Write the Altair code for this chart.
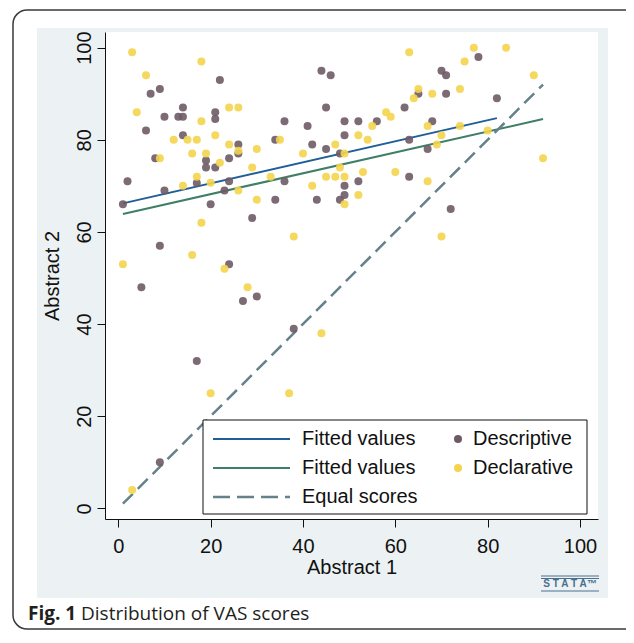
import altair as alt
import pandas as pd

# ---------------- data ----------------
desc_x = [22, 7, 9, 14, 10, 13, 14, 21, 21, 6, 14, 26, 26, 8, 19, 24, 19, 21,
          36, 41, 45, 44, 46, 49, 49, 34, 42, 45, 48, 52, 56, 62, 65, 71, 70, 71,
          78, 82, 68, 63, 67, 63, 72, 49, 52, 49, 48, 43, 34, 36, 29, 20, 2, 1,
          10, 17, 24, 23, 9, 24, 5, 27, 30, 38, 17, 9]
desc_y = [93, 90, 91, 87, 85, 85, 85, 86, 84.5, 82, 81, 79, 77, 76, 75.5, 76, 74, 74,
          84, 83, 87, 95, 94, 84, 81, 80, 79, 78, 77, 84, 84, 87, 90, 90, 95, 94,
          98, 89, 84, 80, 78, 72, 65, 70, 71, 68, 67, 67, 67, 71, 63, 66, 71, 66,
          69, 70.6, 71, 69, 57, 53, 48, 45, 46, 39, 32, 10]

decl_x = [3, 18, 6, 4, 24, 26, 18, 21, 12, 15, 17, 24, 26, 9, 16, 19, 22, 30, 35,
          40, 47, 49, 29, 48, 33, 42, 45, 47, 49, 49, 30, 18, 14, 17, 20, 26, 38,
          16, 1, 23, 28, 44, 20, 37, 3, 70, 63, 77, 84, 75, 90, 65, 64, 68, 74,
          58, 59, 55, 52, 54, 67, 74, 70, 69, 80, 92, 53, 60, 67, 52]
decl_y = [99, 97, 94, 86, 87, 87, 84, 81, 80, 80, 80, 79, 77.6, 76, 77, 77, 75, 78, 80,
          77, 79, 77, 74, 74, 72, 70, 72, 72, 72, 66, 67, 62, 70, 72, 70.7, 69, 59,
          55, 53, 52, 48, 38, 25, 25, 4, 59, 99, 100, 100, 97, 94, 91, 89, 90, 91,
          86, 85, 83, 81, 80, 83, 83, 81, 79, 82, 76, 73, 73, 71, 68]

fit_desc_x = [1, 82]
fit_desc_y = [66.2, 84.7]
fit_decl_x = [1, 92]
fit_decl_y = [63.9, 84.5]
equal_x = [1, 92]
equal_y = [1, 92]

x_ticks = [0, 20, 40, 60, 80, 100]
y_ticks = [0, 20, 40, 60, 80, 100]
groups = ["Descriptive", "Declarative"]
legend_labels = ["Fitted values", "Fitted values", "Equal scores", "Descriptive", "Declarative"]
x_title = "Abstract 1"
y_title = "Abstract 2"
caption_bold = "Fig. 1"
caption_text = "Distribution of VAS scores"
logo_text = "S T A T A\u2122"

# ---------------- styling ----------------
W, H = 493, 487
XDOM = [-2.88, 103.9]
YDOM = [-2.32, 103.4]
C_DESC = "#6e5a65"
C_DECL = "#f4d44c"
C_FIT1 = "#1f5e98"
C_FIT2 = "#3e7f66"
C_EQ = "#66818a"
BG_BLUE = "#ecf2f4"
FONT = "Liberation Sans"

xs = alt.Scale(domain=XDOM, nice=False, zero=False)
ys = alt.Scale(domain=YDOM, nice=False, zero=False)

one = pd.DataFrame({"a": [0]})

pts = pd.DataFrame({
    "x": desc_x + decl_x,
    "y": desc_y + decl_y,
    "group": [groups[0]] * len(desc_x) + [groups[1]] * len(decl_x),
})
fit1 = pd.DataFrame({"x": fit_desc_x, "y": fit_desc_y})
fit2 = pd.DataFrame({"x": fit_decl_x, "y": fit_decl_y})
eq = pd.DataFrame({"x": equal_x, "y": equal_y})

xaxis = alt.Axis(values=x_ticks, title=x_title, grid=False, tickSize=8,
                 labelFontSize=20, titleFontSize=20, labelPadding=9, titlePadding=1,
                 labelFont=FONT, titleFont=FONT, titleFontWeight="normal",
                 domainColor="#111111", tickColor="#111111", labelColor="#111111",
                 titleColor="#111111", zindex=1, labelFlush=False)
yaxis = alt.Axis(values=y_ticks, title=y_title, grid=False, tickSize=8,
                 labelFontSize=20, titleFontSize=20, labelPadding=7, titlePadding=12,
                 labelAngle=270, labelAlign="center", labelBaseline="alphabetic",
                 labelFont=FONT, titleFont=FONT, titleFontWeight="normal",
                 domainColor="#111111", tickColor="#111111", labelColor="#111111",
                 titleColor="#111111", zindex=1, labelFlush=False)

# ---------------- decoration layers ----------------
blue_bg = alt.Chart(one).mark_rect(color=BG_BLUE).encode(
    x=alt.value(-68), x2=alt.value(503), y=alt.value(-4), y2=alt.value(566))
white_bg = alt.Chart(one).mark_rect(color="white").encode(
    x=alt.value(0), x2=alt.value(W), y=alt.value(0), y2=alt.value(H))
frame = alt.Chart(one).mark_rect(filled=False, stroke="#3a3a3a", strokeWidth=1.5,
                                 cornerRadius=14).encode(
    x=alt.value(-92), x2=alt.value(560), y=alt.value(-22), y2=alt.value(597))

logo_txt = alt.Chart(one).mark_text(font=FONT, fontSize=10, fontWeight="bold",
                                    color="#4a6f8c", align="center",
                                    baseline="middle").encode(
    x=alt.value(465), y=alt.value(552), text=alt.value(logo_text))
logo_l1 = alt.Chart(one).mark_rule(color="#4a6f8c", strokeWidth=1).encode(
    x=alt.value(436), x2=alt.value(494), y=alt.value(544))
logo_l2 = alt.Chart(one).mark_rule(color="#4a6f8c", strokeWidth=1).encode(
    x=alt.value(436), x2=alt.value(494), y=alt.value(546.5))
logo_l3 = alt.Chart(one).mark_rule(color="#4a6f8c", strokeWidth=1).encode(
    x=alt.value(436), x2=alt.value(494), y=alt.value(559))

cap1 = alt.Chart(one).mark_text(font="Open Sans", fontSize=19, fontWeight="bold",
                                color="#231f20", align="left", baseline="alphabetic").encode(
    x=alt.value(-77), y=alt.value(588), text=alt.value(caption_bold))
cap2 = alt.Chart(one).mark_text(font="Open Sans", fontSize=19, color="#231f20",
                                align="left", baseline="alphabetic").encode(
    x=alt.value(-24), y=alt.value(588), text=alt.value(caption_text))

# ---------------- data layers ----------------
line1 = alt.Chart(fit1).mark_line(color=C_FIT1, strokeWidth=2).encode(
    x=alt.X("x:Q", scale=xs, axis=xaxis), y=alt.Y("y:Q", scale=ys, axis=yaxis))
line2 = alt.Chart(fit2).mark_line(color=C_FIT2, strokeWidth=2).encode(
    x=alt.X("x:Q", scale=xs), y=alt.Y("y:Q", scale=ys))
line3 = alt.Chart(eq).mark_line(color=C_EQ, strokeWidth=2.5, strokeDash=[14, 7]).encode(
    x=alt.X("x:Q", scale=xs), y=alt.Y("y:Q", scale=ys))
points = alt.Chart(pts).mark_circle(size=64, opacity=0.9).encode(
    x=alt.X("x:Q", scale=xs), y=alt.Y("y:Q", scale=ys),
    color=alt.Color("group:N", scale=alt.Scale(domain=groups, range=[C_DESC, C_DECL]),
                    legend=None))

# ---------------- legend (drawn by hand) ----------------
leg_box = alt.Chart(one).mark_rect(fill="white", stroke="#111111", strokeWidth=1).encode(
    x=alt.value(98), x2=alt.value(482), y=alt.value(388), y2=alt.value(482))
rows = [407, 436, 465]
leg_layers = [leg_box]
leg_layers.append(alt.Chart(one).mark_rule(color=C_FIT1, strokeWidth=2).encode(
    x=alt.value(108), x2=alt.value(185), y=alt.value(rows[0])))
leg_layers.append(alt.Chart(one).mark_rule(color=C_FIT2, strokeWidth=2).encode(
    x=alt.value(108), x2=alt.value(185), y=alt.value(rows[1])))
leg_layers.append(alt.Chart(one).mark_rule(color=C_EQ, strokeWidth=2.5, strokeDash=[17, 7]).encode(
    x=alt.value(108), x2=alt.value(185), y=alt.value(rows[2])))
leg_layers.append(alt.Chart(one).mark_circle(size=64, color=C_DESC, opacity=1).encode(
    x=alt.value(353), y=alt.value(rows[0])))
leg_layers.append(alt.Chart(one).mark_circle(size=64, color=C_DECL, opacity=1).encode(
    x=alt.value(353), y=alt.value(rows[1])))
label_pos = [(197, rows[0]), (197, rows[1]), (197, rows[2]), (368, rows[0]), (368, rows[1])]
for lab, (lx, ly) in zip(legend_labels, label_pos):
    leg_layers.append(alt.Chart(one).mark_text(font=FONT, fontSize=20, color="#111111",
                                               align="left", baseline="middle").encode(
        x=alt.value(lx), y=alt.value(ly), text=alt.value(lab)))

chart = alt.layer(
    blue_bg, white_bg, frame, logo_l1, logo_l2, logo_l3, logo_txt, cap1, cap2,
    line1, line2, line3, points, *leg_layers
).properties(
    width=W, height=H,
    autosize=alt.AutoSizeParams(type="none"),
    padding={"left": 97, "top": 24, "right": 28, "bottom": 111},
).configure_view(stroke=None, fill=None).configure(background="white")

chart.save("out.html", embed_options={"renderer": "svg", "actions": False})
